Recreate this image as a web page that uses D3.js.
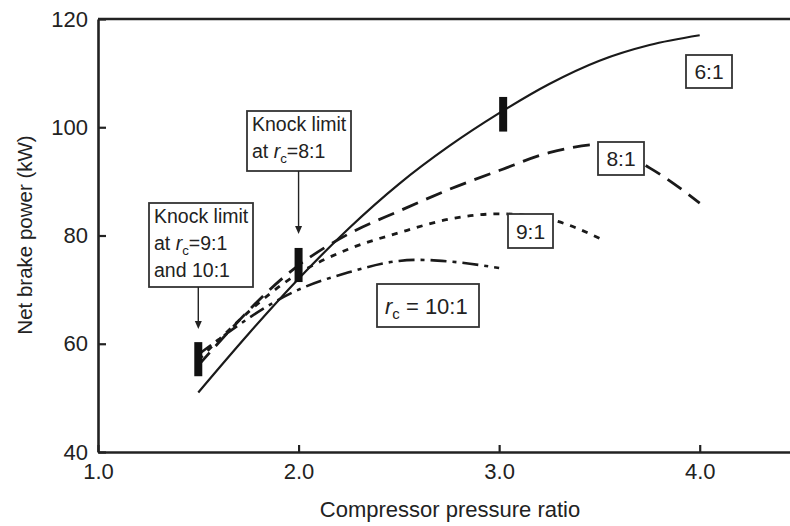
<!DOCTYPE html>
<html>
<head>
<meta charset="utf-8">
<script src="https://d3js.org/d3.v7.min.js"></script>
<style>
  body { margin: 0; background: #fff; }
  svg text { font-family: "Liberation Sans", Arial, sans-serif; fill: #222; }
</style>
</head>
<body>
<div id="chart"></div>
<script>
// pressure ratio (x) and net brake power (kW) per compression ratio
var x6  = [1.5, 1.75, 2.0, 2.25, 2.5, 2.75, 3.0, 3.25, 3.5, 3.75, 4.0];
var p6  = [51, 61.8, 72, 81.3, 89.5, 96.5, 102.6, 108, 112.3, 115.2, 117];
var x8  = [1.5, 2.0, 2.25, 2.5, 2.75, 3.0, 3.25, 3.5, 3.75, 4.0];
var p8  = [56, 74.5, 80.3, 84.5, 88.5, 92, 95.3, 96.8, 92.5, 86];
var x9  = [1.5, 2.0, 2.25, 2.5, 2.75, 3.0, 3.25, 3.5];
var p9  = [57, 73, 77.5, 80.5, 83, 84, 83, 79.5];
var x10 = [1.5, 2.0, 2.25, 2.5, 2.6, 2.75, 3.0];
var p10 = [58, 70, 73.2, 75.3, 75.5, 75.2, 74];

// knock limit markers: [x, low, high]
var knock = [[1.5, 54, 60.3], [2.0, 71.4, 77.7], [3.02, 99.2, 105.6]];

var xTicks = [1, 2, 3, 4];
var yTicks = [40, 60, 80, 100, 120];

var width = 790, height = 526;
var svg = d3.select("#chart").append("svg")
    .attr("width", width).attr("height", height);

var x = d3.scaleLinear().domain([1, 4.5]).range([98, 800]);
var y = d3.scaleLinear().domain([40, 120]).range([452, 19]);

// axes with inward ticks
var xAxis = d3.axisBottom(x).tickValues(xTicks).tickFormat(d3.format(".1f"))
    .tickSizeInner(-7).tickSizeOuter(0).tickPadding(9);
var yAxis = d3.axisLeft(y).tickValues(yTicks)
    .tickSizeInner(-8).tickSizeOuter(0).tickPadding(10);

var gx = svg.append("g").attr("transform", "translate(0," + y(40) + ")").call(xAxis);
var gy = svg.append("g").attr("transform", "translate(" + x(1) + ",0)").call(yAxis);
[gx, gy].forEach(function(g) {
  g.select(".domain").attr("stroke", "#222").attr("stroke-width", 2.6);
  g.selectAll(".tick line").attr("stroke", "#222").attr("stroke-width", 2.2);
  g.selectAll(".tick text").style("font-size", "22px").attr("fill", "#222");
});
gx.selectAll(".tick text").attr("dy", "0.8em");

// top frame line
svg.append("line")
    .attr("x1", x(1)).attr("x2", width)
    .attr("y1", y(120)).attr("y2", y(120))
    .attr("stroke", "#222").attr("stroke-width", 2.6);

// axis titles
svg.append("text")
    .attr("x", 450).attr("y", 517)
    .attr("text-anchor", "middle")
    .style("font-size", "22px")
    .text("Compressor pressure ratio");
svg.append("text")
    .attr("transform", "translate(32,235) rotate(-90)")
    .attr("text-anchor", "middle")
    .style("font-size", "20.5px")
    .text("Net brake power (kW)");

var line = d3.line()
    .x(function(d) { return x(d[0]); })
    .y(function(d) { return y(d[1]); })
    .curve(d3.curveMonotoneX);

var series = [
  { xs: x6,  ps: p6,  dash: null,          w: 2.2 },
  { xs: x8,  ps: p8,  dash: "17,9",        w: 2.8 },
  { xs: x9,  ps: p9,  dash: "6,7",         w: 2.8 },
  { xs: x10, ps: p10, dash: "16,6,4,6",    w: 2.6 }
];

series.forEach(function(s) {
  svg.append("path")
      .datum(d3.zip(s.xs, s.ps))
      .attr("d", line)
      .attr("fill", "none")
      .attr("stroke", "#1a1a1a")
      .attr("stroke-width", s.w)
      .attr("stroke-dasharray", s.dash);
});

// knock limit bars
svg.selectAll("rect.knock").data(knock).enter().append("rect")
    .attr("class", "knock")
    .attr("x", function(d) { return x(d[0]) - 4; })
    .attr("width", 8)
    .attr("y", function(d) { return y(d[2]); })
    .attr("height", function(d) { return y(d[1]) - y(d[2]); })
    .attr("fill", "#111");

// label boxes
function box(x0, y0, w, h) {
  svg.append("rect").attr("x", x0).attr("y", y0).attr("width", w).attr("height", h)
      .attr("fill", "#fff").attr("stroke", "#333").attr("stroke-width", 1.8);
}
function rcText(xPos, yPos, prefix, suffix, size) {
  var el = svg.append("text").attr("x", xPos).attr("y", yPos).style("font-size", size + "px");
  if (prefix) el.append("tspan").text(prefix);
  el.append("tspan").style("font-style", "italic").text("r");
  el.append("tspan").attr("dy", 5).style("font-size", (size * 0.68) + "px").text("c");
  el.append("tspan").attr("dy", -5).text(suffix);
  return el;
}

box(686, 55, 46, 33);
svg.append("text").attr("x", 709).attr("y", 79).attr("text-anchor", "middle")
    .style("font-size", "21px").text("6:1");
box(598, 142, 46, 33);
svg.append("text").attr("x", 621).attr("y", 166).attr("text-anchor", "middle")
    .style("font-size", "21px").text("8:1");
box(508, 214, 45, 34);
svg.append("text").attr("x", 530.5).attr("y", 239).attr("text-anchor", "middle")
    .style("font-size", "21px").text("9:1");
box(377, 284, 102, 43);
rcText(385, 314, null, " = 10:1", 22);

// knock limit callouts
function arrow(xPos, y1, y2) {
  svg.append("line").attr("x1", xPos).attr("x2", xPos).attr("y1", y1).attr("y2", y2 - 6)
      .attr("stroke", "#222").attr("stroke-width", 1.4);
  svg.append("path")
      .attr("d", "M" + (xPos - 3.5) + "," + (y2 - 8) + "L" + (xPos + 3.5) + "," + (y2 - 8) + "L" + xPos + "," + y2 + "Z")
      .attr("fill", "#222");
}

box(149, 203, 104, 84);
svg.append("text").attr("x", 154).attr("y", 223).style("font-size", "19.5px").text("Knock limit");
rcText(154, 250, "at ", "=9:1", 19.5);
svg.append("text").attr("x", 154).attr("y", 277).style("font-size", "19.5px").text("and 10:1");
arrow(x(1.5), 287, 329);

box(247, 111, 104, 60);
svg.append("text").attr("x", 252).attr("y", 131).style("font-size", "19.5px").text("Knock limit");
rcText(252, 158, "at ", "=8:1", 19.5);
arrow(x(2.0), 171, 234);
</script>
</body>
</html>
